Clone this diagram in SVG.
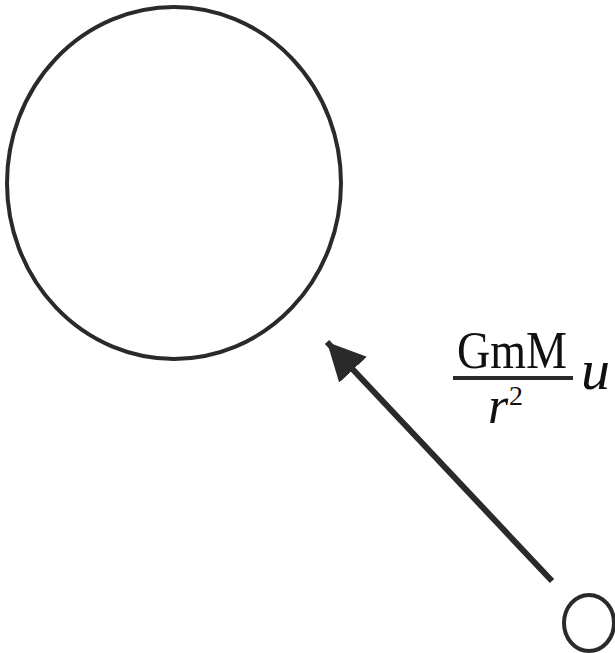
<svg xmlns="http://www.w3.org/2000/svg" width="615" height="653" viewBox="0 0 615 653">
<style>
.node{fill:none;stroke:#2a2a2a;stroke-width:4}
.conn{fill:none;stroke:#2a2a2a;stroke-width:6}
.t{font-family:"Liberation Serif","Times New Roman",serif;fill:#111}
</style>
<defs>
<marker id="ah" markerUnits="userSpaceOnUse" markerWidth="40" markerHeight="40" refX="38" refY="19" orient="auto" viewBox="0 0 40 40">
<path d="M0,0 L38,19 L0,38 Z" fill="#2a2a2a"/>
</marker>
</defs>
<rect width="615" height="653" fill="#fff"/>
<g id="big">
<ellipse class="node" cx="174" cy="183" rx="167" ry="176"/>
</g>
<g id="small">
<ellipse class="node" cx="589" cy="623" rx="25" ry="28"/>
</g>
<g id="connectors">
<line class="conn" x1="552" y1="581" x2="327" y2="342" marker-end="url(#ah)"/>
</g>
<g id="label">
<text class="t" x="457" y="368" font-size="52" textLength="110" lengthAdjust="spacingAndGlyphs">GmM</text>
<line x1="453" y1="378" x2="573" y2="378" stroke="#2a2a2a" stroke-width="4"/>
<text class="t" x="488" y="423" font-size="52" font-style="italic">r</text>
<text class="t" x="509" y="405" font-size="28">2</text>
<text class="t" x="581" y="389" font-size="58" font-style="italic">u</text>
</g>
</svg>
